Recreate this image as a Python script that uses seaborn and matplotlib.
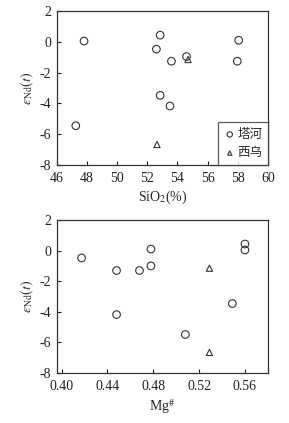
import matplotlib
matplotlib.use("Agg")
import matplotlib.pyplot as plt
import seaborn as sns
import pandas as pd

# data
tahe_sio2 = [47.25, 47.8, 52.6, 52.85, 52.85, 53.5, 53.6, 54.6, 57.97, 58.06]
tahe_end_a = [-5.45, 0.05, -0.48, 0.43, -3.48, -4.17, -1.26, -0.96, -1.26, 0.1]
xiwu_sio2 = [52.64, 54.7]
xiwu_end_a = [-6.67, -1.15]

tahe_mg = [0.4175, 0.448, 0.448, 0.468, 0.478, 0.478, 0.508, 0.549, 0.56, 0.56]
tahe_end_b = [-0.48, -1.3, -4.18, -1.3, 0.1, -1.0, -5.48, -3.46, 0.43, 0.04]
xiwu_mg = [0.529, 0.529]
xiwu_end_b = [-1.15, -6.65]

groups = ["塔河", "西乌"]

df_a = pd.DataFrame({
    "x": tahe_sio2 + xiwu_sio2,
    "y": tahe_end_a + xiwu_end_a,
    "g": [groups[0]] * len(tahe_sio2) + [groups[1]] * len(xiwu_sio2),
})
df_b = pd.DataFrame({
    "x": tahe_mg + xiwu_mg,
    "y": tahe_end_b + xiwu_end_b,
    "g": [groups[0]] * len(tahe_mg) + [groups[1]] * len(xiwu_mg),
})

sns.set_style("ticks")
plt.rcParams["font.family"] = ["Liberation Serif", "Noto Sans CJK SC"]
plt.rcParams["mathtext.fontset"] = "stix"
plt.rcParams["axes.unicode_minus"] = False

fig = plt.figure(figsize=(2.89, 4.23), dpi=100)
ax1 = fig.add_axes([0.197, 0.610, 0.730, 0.364])
ax2 = fig.add_axes([0.197, 0.118, 0.730, 0.362])

markers = {"塔河": "o", "西乌": "^"}
sizes = {"塔河": 30, "西乌": 20}


def draw(ax, df):
    for g in groups:
        sub = df[df["g"] == g]
        sns.scatterplot(data=sub, x="x", y="y", ax=ax, marker=markers[g],
                        s=sizes[g], facecolor="none", edgecolor="#333333",
                        linewidth=0.8, label=g, legend=False)
    ax.set_ylim(-8, 2)
    ax.set_yticks([-8, -6, -4, -2, 0, 2])
    ax.set_ylabel(r"$\varepsilon_{\rm Nd}(t)$", fontsize=10, labelpad=3)
    ax.tick_params(direction="in", length=3, width=0.8, labelsize=10,
                   colors="#222222")
    ax.tick_params(axis="x", pad=5)
    ax.tick_params(axis="y", pad=4)
    for sp in ax.spines.values():
        sp.set_visible(True)
        sp.set_linewidth(0.9)
        sp.set_color("#333333")


draw(ax1, df_a)
ax1.set_xlim(46, 60)
ax1.set_xticks(range(46, 61, 2))
ax1.set_xlabel(r"SiO$_2$(%)", fontsize=10, labelpad=3)
leg = ax1.legend(loc="lower right", borderaxespad=0, frameon=True,
                 fancybox=False, edgecolor="#333333",
                 handletextpad=0.1, handlelength=1.0, borderpad=0.45,
                 labelspacing=0.45, markerscale=0.7,
                 prop={"family": ["Noto Sans CJK SC"], "size": 9})
leg.get_frame().set_linewidth(0.9)

draw(ax2, df_b)
ax2.set_xlim(0.396, 0.58)
ax2.set_xticks([0.40, 0.44, 0.48, 0.52, 0.56])
ax2.set_xticklabels(["0.40", "0.44", "0.48", "0.52", "0.56"])
ax2.set_xlabel(r"Mg$^{\#}$", fontsize=10, labelpad=3)

fig.savefig("out.png", dpi=100)
